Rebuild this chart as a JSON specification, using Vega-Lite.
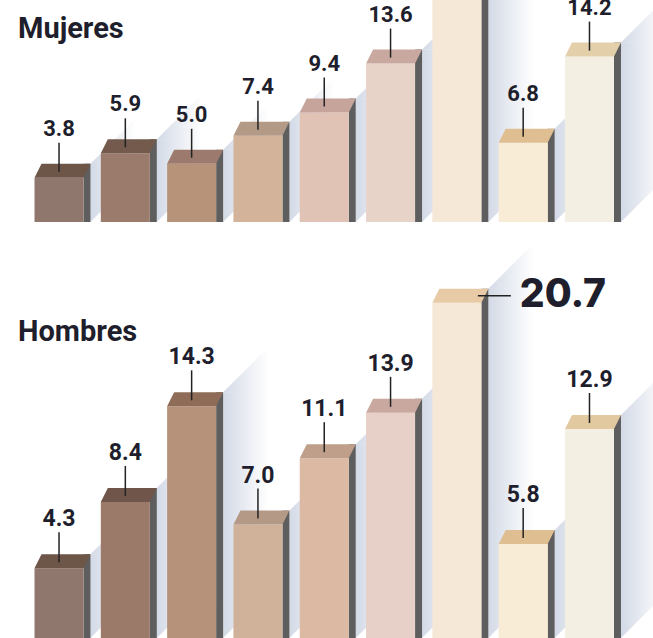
{
  "$schema": "https://vega.github.io/schema/vega-lite/v6.json",
  "width": 653,
  "height": 638,
  "autosize": {"type": "fit", "contains": "padding"},
  "padding": 0,
  "background": "white",
  "config": {"view": {"stroke": null}},
  "title": {
    "text": "Mujeres",
    "subtitle": "Hombres",
    "anchor": "start",
    "frame": "group",
    "orient": "top",
    "offset": -347,
    "dx": 18,
    "font": "Roboto",
    "fontSize": 29,
    "fontWeight": "bold",
    "color": "#1e1e2c",
    "subtitleFont": "Roboto",
    "subtitleFontSize": 29,
    "subtitleFontWeight": "bold",
    "subtitleColor": "#1e1e2c",
    "subtitlePadding": 274
  },
  "data": {
    "values": [
      {"panel": "Mujeres", "cat": "1", "value": 3.8},
      {"panel": "Mujeres", "cat": "2", "value": 5.9},
      {"panel": "Mujeres", "cat": "3", "value": 5.0},
      {"panel": "Mujeres", "cat": "4", "value": 7.4},
      {"panel": "Mujeres", "cat": "5", "value": 9.4},
      {"panel": "Mujeres", "cat": "6", "value": 13.6},
      {"panel": "Mujeres", "cat": "7", "value": 21.4},
      {"panel": "Mujeres", "cat": "8", "value": 6.8},
      {"panel": "Mujeres", "cat": "9", "value": 14.2},
      {"panel": "Hombres", "cat": "1", "value": 4.3},
      {"panel": "Hombres", "cat": "2", "value": 8.4},
      {"panel": "Hombres", "cat": "3", "value": 14.3},
      {"panel": "Hombres", "cat": "4", "value": 7.0},
      {"panel": "Hombres", "cat": "5", "value": 11.1},
      {"panel": "Hombres", "cat": "6", "value": 13.9},
      {"panel": "Hombres", "cat": "7", "value": 20.7},
      {"panel": "Hombres", "cat": "8", "value": 5.8},
      {"panel": "Hombres", "cat": "9", "value": 12.9}
    ]
  },
  "encoding": {
    "x": {
      "field": "cat",
      "type": "ordinal",
      "axis": null,
      "scale": {"paddingInner": 0, "paddingOuter": 0.424, "align": 0.46}
    }
  },
  "layer": [
    {
      "transform": [{"filter": "datum.panel == 'Mujeres'"}],
      "encoding": {
        "y": {
          "field": "value",
          "type": "quantitative",
          "axis": null,
          "scale": {"domain": [-35.71, 19.06], "zero": false, "nice": false}
        }
      },
      "layer": [
        {
          "mark": {"type": "bar", "width": 45, "xOffset": 54, "yOffset": -14, "y2Offset": -45, "clip": true,
            "fill": {"gradient": "linear", "x1": 0, "y1": 0, "x2": 1, "y2": 0, "stops": [{"offset": 0, "color": "rgba(175,187,210,0.55)"}, {"offset": 1, "color": "rgba(175,187,210,0)"}]}},
          "encoding": {"y2": {"datum": 0}}
        },
        {
          "mark": {"type": "point", "shape": "M31.5,-14L76.5,-59L76.5,-14Z", "size": 4, "filled": true, "opacity": 1, "strokeWidth": 0, "clip": true,
            "fill": {"gradient": "linear", "x1": 0, "y1": 0, "x2": 1, "y2": 0, "stops": [{"offset": 0, "color": "rgba(175,187,210,0.55)"}, {"offset": 1, "color": "rgba(175,187,210,0)"}]}},
          "encoding": {}
        },
        {
          "mark": {"type": "point", "shape": "M31.5,-45L31.5,0L76.5,-45Z", "size": 4, "filled": true, "opacity": 1, "strokeWidth": 0, "clip": true,
            "fill": {"gradient": "linear", "x1": 0, "y1": 0, "x2": 1, "y2": 0, "stops": [{"offset": 0, "color": "rgba(175,187,210,0.55)"}, {"offset": 1, "color": "rgba(175,187,210,0)"}]}},
          "encoding": {"y": {"datum": 0, "type": "quantitative"}}
        },
        {
          "mark": {"type": "bar", "width": 7, "xOffset": 28, "yOffset": -14, "color": "#5e5e5e", "clip": true},
          "encoding": {"y2": {"datum": 0}}
        },
        {
          "mark": {"type": "bar", "width": 49, "clip": true},
          "encoding": {
            "y2": {"datum": 0},
            "color": {
              "field": "cat", "type": "nominal", "legend": null,
              "scale": {"range": ["#8f776d","#9b7b6b","#b69379","#d3b49b","#e1c3b5","#e8d3c9","#f6e8d6","#f8ecd6","#f4efe3"]}
            }
          }
        },
        {
          "mark": {"type": "point", "shape": "M-24.5,0L24.5,0L31.5,-14L-17.5,-14Z", "size": 4, "filled": true, "opacity": 1, "strokeWidth": 0, "clip": true},
          "encoding": {
            "color": {
              "field": "cat", "type": "nominal", "legend": null,
              "scale": {"range": ["#6d5548","#735a4c","#9c7b6e","#b39a87","#c6a49c","#c9a99f","#e8caa6","#dfbe91","#e3cfaa"]}
            }
          }
        },
        {
          "transform": [{"filter": "datum.cat != '7'"}],
          "mark": {"type": "rule", "color": "#222222", "strokeWidth": 1.5, "yOffset": -6, "y2Offset": -35, "clip": true},
          "encoding": {"y2": {"field": "value"}}
        },
        {
          "transform": [{"filter": "datum.cat != '7'"}],
          "mark": {"type": "text", "yOffset": -42, "baseline": "alphabetic", "align": "center", "font": "Roboto", "fontSize": 22, "fontWeight": "bold", "color": "#1e1e2c", "clip": true},
          "encoding": {"text": {"field": "value", "type": "quantitative", "format": ".1f"}}
        }
      ],
      "resolve": {"scale": {"color": "independent"}}
    },
    {
      "transform": [{"filter": "datum.panel == 'Hombres'"}],
      "encoding": {
        "y": {
          "field": "value",
          "type": "quantitative",
          "axis": null,
          "scale": {"domain": [0, 39.38], "zero": false, "nice": false}
        }
      },
      "layer": [
        {
          "mark": {"type": "bar", "width": 45, "xOffset": 54, "yOffset": -14, "y2Offset": -45, "clip": true,
            "fill": {"gradient": "linear", "x1": 0, "y1": 0, "x2": 1, "y2": 0, "stops": [{"offset": 0, "color": "rgba(175,187,210,0.55)"}, {"offset": 1, "color": "rgba(175,187,210,0)"}]}},
          "encoding": {"y2": {"datum": 0}}
        },
        {
          "mark": {"type": "point", "shape": "M31.5,-14L76.5,-59L76.5,-14Z", "size": 4, "filled": true, "opacity": 1, "strokeWidth": 0, "clip": true,
            "fill": {"gradient": "linear", "x1": 0, "y1": 0, "x2": 1, "y2": 0, "stops": [{"offset": 0, "color": "rgba(175,187,210,0.55)"}, {"offset": 1, "color": "rgba(175,187,210,0)"}]}},
          "encoding": {}
        },
        {
          "mark": {"type": "point", "shape": "M31.5,-45L31.5,0L76.5,-45Z", "size": 4, "filled": true, "opacity": 1, "strokeWidth": 0, "clip": true,
            "fill": {"gradient": "linear", "x1": 0, "y1": 0, "x2": 1, "y2": 0, "stops": [{"offset": 0, "color": "rgba(175,187,210,0.55)"}, {"offset": 1, "color": "rgba(175,187,210,0)"}]}},
          "encoding": {"y": {"datum": 0, "type": "quantitative"}}
        },
        {
          "mark": {"type": "bar", "width": 7, "xOffset": 28, "yOffset": -14, "color": "#5e5e5e", "clip": true},
          "encoding": {"y2": {"datum": 0}}
        },
        {
          "mark": {"type": "bar", "width": 49, "clip": true},
          "encoding": {
            "y2": {"datum": 0},
            "color": {
              "field": "cat", "type": "nominal", "legend": null,
              "scale": {"range": ["#8f776d","#9b7a69","#b59279","#d0b199","#dcb9a2","#e6d0c7","#f6e8d6","#f8ecd6","#f4efe3"]}
            }
          }
        },
        {
          "mark": {"type": "point", "shape": "M-24.5,0L24.5,0L31.5,-14L-17.5,-14Z", "size": 4, "filled": true, "opacity": 1, "strokeWidth": 0, "clip": true},
          "encoding": {
            "color": {
              "field": "cat", "type": "nominal", "legend": null,
              "scale": {"range": ["#6d5548","#70564a","#8e6c58","#b49a86","#bf9f8a","#c9a99f","#e8caa6","#dfbe91","#e3c9a0"]}
            }
          }
        },
        {
          "transform": [{"filter": "datum.cat != '7'"}],
          "mark": {"type": "rule", "color": "#222222", "strokeWidth": 1.5, "yOffset": -6, "y2Offset": -36, "clip": true},
          "encoding": {"y2": {"field": "value"}}
        },
        {
          "transform": [{"filter": "datum.cat != '7'"}],
          "mark": {"type": "text", "yOffset": -42, "baseline": "alphabetic", "align": "center", "font": "Roboto", "fontSize": 23, "fontWeight": "bold", "color": "#1e1e2c", "clip": true},
          "encoding": {"text": {"field": "value", "type": "quantitative", "format": ".1f"}}
        },
        {
          "transform": [{"filter": "datum.cat == '7'"}],
          "mark": {"type": "rule", "color": "#222222", "strokeWidth": 1.5, "xOffset": 21, "x2Offset": 54, "yOffset": -7, "clip": true},
          "encoding": {"x2": {"field": "cat"}}
        },
        {
          "transform": [{"filter": "datum.cat == '7'"}],
          "mark": {"type": "text", "xOffset": 63, "yOffset": -8, "baseline": "middle", "align": "left", "font": "Inter", "fontSize": 39, "fontWeight": 800, "color": "#1e1e2c", "clip": true},
          "encoding": {"text": {"field": "value", "type": "quantitative", "format": ".1f"}}
        }
      ],
      "resolve": {"scale": {"color": "independent"}}
    }
  ],
  "resolve": {"scale": {"y": "independent", "color": "independent"}}
}
